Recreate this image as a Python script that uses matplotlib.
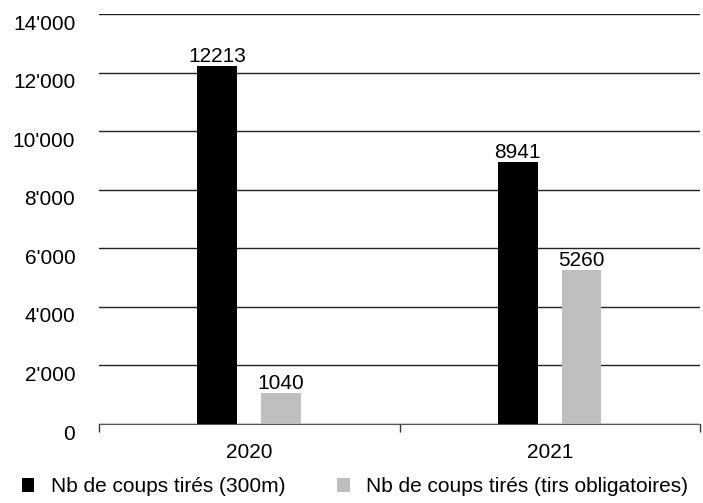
import matplotlib
matplotlib.use("Agg")
import matplotlib.pyplot as plt
import matplotlib.transforms as mtransforms
from matplotlib.patches import Patch
import numpy as np

plt.rcParams['font.family'] = ['Liberation Sans', 'DejaVu Sans']
plt.rcParams['font.size'] = 15

years = ['2020', '2021']
shots_300m = [12213, 8941]
shots_mandatory = [1040, 5260]
series_labels = ['Nb de coups tirés (300m)', 'Nb de coups tirés (tirs obligatoires)']
y_ticks = [0, 2000, 4000, 6000, 8000, 10000, 12000, 14000]

fig = plt.figure(figsize=(7.03, 5.03), dpi=100)
ax = fig.add_axes([0.1408, 0.1577, 0.9962 - 0.1408, 0.9722 - 0.1577])

x = np.arange(len(years))
w = 0.132
b1 = ax.bar(x - 0.107, shots_300m, w, color='black', zorder=3)
b2 = ax.bar(x + 0.105, shots_mandatory, w, color='#bfbfbf', zorder=3)

for bars, vals in ((b1, shots_300m), (b2, shots_mandatory)):
    for r, v in zip(bars, vals):
        ax.annotate(str(v), (r.get_x() + r.get_width() / 2, v),
                    xytext=(0, 0), textcoords='offset points',
                    ha='center', va='bottom', fontsize=15)

ax.set_xlim(-0.5, 1.5)
ax.set_ylim(0, 14000)
ax.set_yticks(y_ticks)
ax.set_yticklabels([f"{v:,}".replace(',', "'") for v in y_ticks])
ax.tick_params(axis='y', length=0, pad=17)
ax.yaxis.grid(True, color='#222222', linewidth=1.0, zorder=0)

# year labels in the middle, tick marks at the category boundaries
ax.set_xticks([-0.5, 0.5, 1.5])
ax.set_xticklabels([])
ax.set_xticks(x, minor=True)
ax.set_xticklabels(years, minor=True)
ax.tick_params(axis='x', which='major', length=6, width=1, color='#333333', direction='out')
ax.tick_params(axis='x', which='minor', length=0, pad=14)

for s in ('top', 'right', 'left'):
    ax.spines[s].set_visible(False)
ax.spines['bottom'].set_color('#555555')
ax.spines['bottom'].set_zorder(4)

# y labels sit a bit below their gridlines
offset = mtransforms.ScaledTranslation(0, -6 / 72, fig.dpi_scale_trans)
for lab in ax.get_yticklabels():
    lab.set_transform(lab.get_transform() + offset)

handles = [Patch(facecolor='black'), Patch(facecolor='#bfbfbf')]
fig.legend(handles, series_labels, loc='lower left', bbox_to_anchor=(0.004, -0.024),
           ncol=2, frameon=False, handlelength=0.6, handleheight=0.6,
           handletextpad=0.8, columnspacing=2.5, fontsize=15)

fig.savefig('out.png', dpi=100)
